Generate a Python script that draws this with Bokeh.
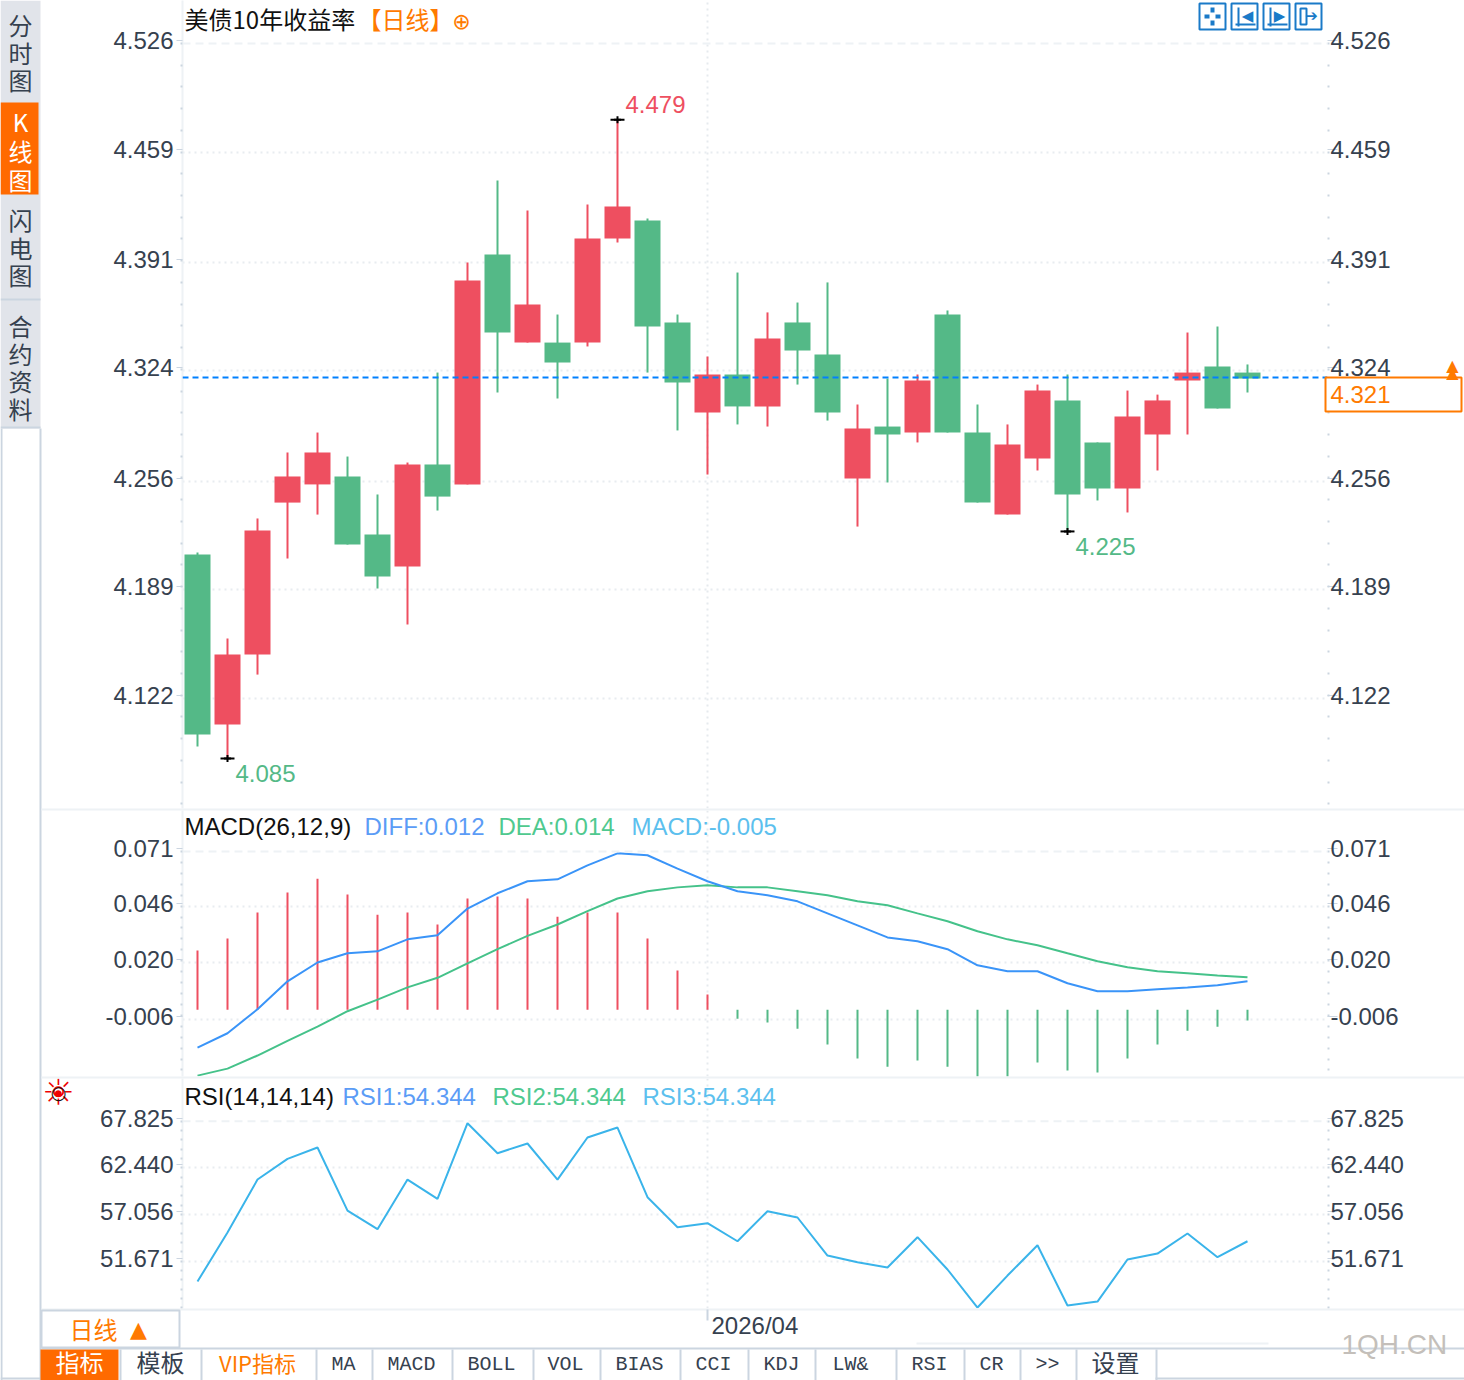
from bokeh.embed import file_html
from bokeh.layouts import column
from bokeh.models import BoxAnnotation, ColumnDataSource, FixedTicker, Label, LinearAxis, Span
from bokeh.plotting import figure
from bokeh.resources import INLINE

# daily bars, 10y treasury yield
opens = [4.2108, 4.1059, 4.1491, 4.2428, 4.2540, 4.2589, 4.2231, 4.2034, 4.2663, 4.2540, 4.3958, 4.3415,
         4.3415, 4.3415, 4.4057, 4.4168, 4.3539, 4.2984, 4.3218, 4.3021, 4.3539, 4.3341, 4.2577, 4.2897,
         4.2860, 4.3588, 4.2860, 4.2354, 4.2700, 4.3058, 4.2799, 4.2515, 4.2848, 4.3181, 4.3267, 4.3230]
closes = [4.0997, 4.1491, 4.2256, 4.2589, 4.2737, 4.2169, 4.1972, 4.2663, 4.2465, 4.3798, 4.3477, 4.3650,
          4.3292, 4.4057, 4.4254, 4.3514, 4.3169, 4.3218, 4.3021, 4.3440, 4.3366, 4.2984, 4.2885, 4.2848,
          4.3181, 4.2860, 4.2428, 4.2786, 4.3119, 4.2478, 4.2515, 4.2959, 4.3058, 4.3230, 4.3008, 4.3193]
highs = [4.2120, 4.1589, 4.2330, 4.2737, 4.2860, 4.2712, 4.2478, 4.2675, 4.3230, 4.3909, 4.4415, 4.4230,
         4.3588, 4.4267, 4.4790, 4.4180, 4.3588, 4.3329, 4.3847, 4.3601, 4.3662, 4.3786, 4.3033, 4.3193,
         4.3218, 4.3613, 4.3033, 4.2910, 4.3156, 4.3218, 4.2799, 4.3119, 4.3094, 4.3477, 4.3514, 4.3280]
lows = [4.0923, 4.0850, 4.1367, 4.2083, 4.2354, 4.2169, 4.1898, 4.1676, 4.2379, 4.2540, 4.3107, 4.3415,
        4.3070, 4.3391, 4.4032, 4.3230, 4.2873, 4.2601, 4.2910, 4.2897, 4.3156, 4.2934, 4.2280, 4.2552,
        4.2799, 4.2860, 4.2428, 4.2354, 4.2626, 4.2250, 4.2441, 4.2367, 4.2626, 4.2848, 4.3008, 4.3107]
last_price = 4.320

macd_hist = [0.0257, 0.0312, 0.0431, 0.0522, 0.0586, 0.0513, 0.0421, 0.0431, 0.0376, 0.0495, 0.0504, 0.0495,
             0.0412, 0.0431, 0.0431, 0.0312, 0.0165, 0.0055, -0.0055, -0.0073, -0.0101, -0.0174, -0.0238, -0.0275,
             -0.0247, -0.0275, -0.0321, -0.0321, -0.0256, -0.0293, -0.0302, -0.0238, -0.0174, -0.0110, -0.0092, -0.0064]
macd_base = -0.0014
diff = [-0.0188, -0.0122, -0.0012, 0.0116, 0.0202, 0.0244, 0.0253, 0.0308, 0.0327, 0.0449, 0.0519, 0.0574,
        0.0583, 0.0647, 0.0702, 0.0693, 0.0632, 0.0574, 0.0528, 0.0510, 0.0482, 0.0427, 0.0372, 0.0317,
        0.0299, 0.0263, 0.0189, 0.0162, 0.0162, 0.0107, 0.0070, 0.0070, 0.0079, 0.0088, 0.0098, 0.0116]
dea = [-0.0316, -0.0284, -0.0224, -0.0157, -0.0092, -0.0021, 0.0032, 0.0088, 0.0132, 0.0198, 0.0263, 0.0324,
       0.0376, 0.0437, 0.0495, 0.0528, 0.0546, 0.0556, 0.0546, 0.0546, 0.0528, 0.0510, 0.0482, 0.0464,
       0.0427, 0.0391, 0.0345, 0.0308, 0.0281, 0.0244, 0.0208, 0.0180, 0.0162, 0.0153, 0.0143, 0.0134]

rsi = [49.32, 54.98, 61.09, 63.48, 64.79, 57.51, 55.36, 61.09, 58.86, 67.59, 64.13, 65.25,
       61.09, 65.94, 67.09, 59.05, 55.59, 56.05, 53.97, 57.44, 56.71, 52.32, 51.55, 50.94,
       54.44, 50.71, 46.32, 50.01, 53.51, 46.55, 47.01, 51.86, 52.55, 54.86, 52.13, 53.97]

price_ticks = [4.526, 4.459, 4.391, 4.324, 4.256, 4.189, 4.122]
macd_ticks = [0.071, 0.046, 0.020, -0.006]
rsi_ticks = [67.825, 62.440, 57.056, 51.671]
month_tick = 17
month_label = "2026/04"

side_tabs = [("分时图", 24), ("K线图", 121), ("闪电图", 219), ("合约资料", 325)]
bottom_tabs = [("指标", 79), ("模板", 160), ("VIP指标", 257), ("MA", 343), ("MACD", 411), ("BOLL", 491), ("VOL", 565),
               ("BIAS", 639), ("CCI", 713), ("KDJ", 781), ("LW&", 850), ("RSI", 929), ("CR", 991), (">>", 1047), ("设置", 1115)]
tab_lines = [119, 200, 315, 371, 451, 532, 599, 679, 747, 814, 895, 963, 1019, 1075, 1155]

RED = "#ee4f60"
GREEN = "#54b987"
ORANGE = "#ff7a00"
LINE = "#cbd5e0"
PALE = "#eef2f5"
INK = "#36414f"
BLUE = "#1a7ac8"
SANS = "Liberation Sans"
CJK = "Noto Sans CJK SC"
MONO = "Liberation Mono"
SYMBOL = "DejaVu Sans"

idx = list(range(len(opens)))


def box(p, left, right, top, bottom, color, line=None, line_width=0):
    p.add_layout(BoxAnnotation(left=left, right=right, top=top, bottom=bottom,
                               left_units="canvas", right_units="canvas", top_units="canvas", bottom_units="canvas",
                               fill_color=color, fill_alpha=1 if color else 0,
                               line_color=line, line_width=line_width, line_alpha=1))


def put_text(p, x, y, text, color=INK, size=24, font=SANS, align="left"):
    p.add_layout(Label(x=x, y=y, x_units="canvas", y_units="canvas", text=text, text_color=color,
                       text_font=font, text_font_size=f"{size}px", text_align=align, text_baseline="middle"))


def make_pane(height, y_range, ticks, bottom_border):
    p = figure(width=1464, height=height, x_range=(-0.5, 37.667), y_range=y_range,
               min_border_left=182, min_border_right=137, min_border_top=0, min_border_bottom=bottom_border,
               output_backend="svg", toolbar_location=None, tools="", background_fill_color="white")
    p.outline_line_color = None

    step = (ticks[0] - ticks[1]) / 5
    minor = []
    v = ticks[0]
    while v > y_range[0]:
        minor.append(v)
        v -= step

    # the terminal prints its scale labels a little above the gridline they belong to
    nudge = (y_range[1] - y_range[0]) / (height - bottom_border) * 3
    shown = [t + nudge for t in ticks]
    labels = {s: f"{t:.3f}" for s, t in zip(shown, ticks)}

    p.yaxis.ticker = FixedTicker(ticks=shown, minor_ticks=minor)
    right = LinearAxis(ticker=FixedTicker(ticks=shown, minor_ticks=minor))
    p.add_layout(right, "right")
    p.yaxis.major_label_overrides = labels
    p.yaxis.major_label_text_font = SANS
    p.yaxis.major_label_text_font_size = "24px"
    p.yaxis.major_label_text_color = INK
    p.yaxis.major_tick_in = 0
    p.yaxis.major_tick_line_color = LINE
    p.yaxis.minor_tick_in = 0
    p.yaxis.minor_tick_out = 2
    p.yaxis.minor_tick_line_color = LINE
    p.yaxis.minor_tick_line_width = 2
    p.yaxis.axis_line_color = PALE
    p.yaxis.axis_line_width = 2
    p.yaxis.major_tick_out = 6
    p.yaxis.major_label_standoff = 3
    right.axis_line_color = None
    right.major_tick_out = 10
    right.major_label_standoff = -7

    p.xaxis.visible = False
    p.xgrid.ticker = FixedTicker(ticks=[month_tick])
    p.xgrid.grid_line_color = "#e6eaee"
    p.xgrid.grid_line_dash = [2, 4]
    p.xgrid.grid_line_width = 2
    p.ygrid.ticker = FixedTicker(ticks=ticks[1:])
    p.ygrid.grid_line_color = "#e8ecf0"
    p.ygrid.grid_line_dash = [2, 4]
    p.ygrid.grid_line_width = 2
    p.add_layout(Span(location=ticks[0], dimension="width", line_color=PALE, line_width=2, line_dash=[8, 5]))
    return p


# ---- price pane
p1 = make_pane(810, (4.0541, 4.5525), price_ticks, 2)
colors = [RED if c >= o else GREEN for o, c in zip(opens, closes)]
candles = ColumnDataSource(dict(idx=idx, opens=opens, closes=closes, highs=highs, lows=lows, color=colors))
p1.segment("idx", "highs", "idx", "lows", source=candles, line_color="color", line_width=2)
p1.vbar("idx", width=0.867, top="opens", bottom="closes", source=candles, fill_color="color", line_color=None)
p1.add_layout(Span(location=last_price, dimension="width", line_color="#0080ff", line_width=2, line_dash=[6, 4]))

extremes = ColumnDataSource(dict(x=[1, 14, 29], y=[4.085, 4.479, 4.225]))
p1.scatter("x", "y", source=extremes, marker="dash", size=14, line_color="black", line_width=2)
p1.scatter("x", "y", source=extremes, marker="cross", size=7, line_color="black", line_width=2)
for x, y, text, color, dy in [(1, 4.085, "4.085", GREEN, -15), (14, 4.479, "4.479", RED, 15), (29, 4.225, "4.225", GREEN, -15)]:
    p1.add_layout(Label(x=x, y=y, text=text, text_color=color, text_font=SANS, text_font_size="24px",
                        x_offset=8, y_offset=dy, text_baseline="middle"))

# ---- MACD pane
p2 = make_pane(268, (-0.0320, 0.0898), macd_ticks, 2)
hist_colors = [RED if v >= macd_base else GREEN for v in macd_hist]
hist = ColumnDataSource(dict(idx=idx, top=macd_hist, base=[macd_base] * len(idx), color=hist_colors))
p2.segment("idx", "base", "idx", "top", source=hist, line_color="color", line_width=2)
p2.line(idx, dea, line_color="#45c28a", line_width=2)
p2.line(idx, diff, line_color="#3a94f8", line_width=2)

# ---- RSI pane
p3 = make_pane(302, (46.21, 72.75), rsi_ticks, 72)
p3.line(idx, rsi, line_color="#3ab4ea", line_width=2)

# ---- see-through sheet over the panes for the terminal chrome, pulled up by its own height
p0 = figure(width=1464, height=1380, x_range=(0, 1464), y_range=(1380, 0), margin=(-1380, 0, 0, 0),
            min_border=0, x_axis_type=None, y_axis_type=None, output_backend="svg", toolbar_location=None, tools="",
            background_fill_color=None, border_fill_color=None, frame_align=False)
p0.outline_line_color = None
p0.grid.visible = False

# pane titles
put_text(p0, 184, 18, "美债10年收益率", "#111111", 24, CJK)
put_text(p0, 357, 18, "【日线】", ORANGE, 24, CJK)
put_text(p0, 461, 21, "⊕", ORANGE, 22, SYMBOL, "center")
put_text(p0, 184, 826, "MACD(26,12,9)", "#111111")
put_text(p0, 364, 826, "DIFF:0.012", "#5b9cf6")
put_text(p0, 498, 826, "DEA:0.014", "#4fc98f")
put_text(p0, 631, 826, "MACD:-0.005", "#5cc0ee")
put_text(p0, 184, 1096, "RSI(14,14,14)", "#111111")
put_text(p0, 342, 1096, "RSI1:54.344", "#5b9cf6")
put_text(p0, 492, 1096, "RSI2:54.344", "#4fc98f")
put_text(p0, 642, 1096, "RSI3:54.344", "#5cc0ee")
put_text(p0, 58, 1092, "☼", "#f00000", 36, SYMBOL, "center")
put_text(p0, 58, 1092, "○", "#111111", 18, SYMBOL, "center")
put_text(p0, 58, 1092, "●", "#f00000", 9, SYMBOL, "center")

# dividers and rail
box(p0, 0, 2, 428, 1380, LINE)
box(p0, 39, 41, 428, 1380, LINE)
box(p0, 41, 1464, 808, 810, PALE)
box(p0, 41, 1464, 1076, 1078, PALE)
box(p0, 41, 1464, 1308, 1310, PALE)

# last price tag
box(p0, 1325, 1461, 377, 411, "white", ORANGE, 2)
put_text(p0, 1330, 394, "4.321", ORANGE, 24)
put_text(p0, 1452, 365, "▲", ORANGE, 16, SYMBOL, "center")
put_text(p0, 1452, 372, "▲", ORANGE, 16, SYMBOL, "center")

# side tabs
box(p0, 0, 40, 0, 428, "#e1e4ea")
box(p0, 0, 38, 102, 194, "#ff6a00")
box(p0, 0, 40, 298, 300, LINE)
box(p0, 0, 40, 426, 428, LINE)
for text, start in side_tabs:
    for i, ch in enumerate(text):
        step = 29 if text == "K线图" else 27.5
        put_text(p0, 20, start + i * step, ch, "white" if text == "K线图" else INK, 24, CJK, "center")

# chart tool buttons
for left, glyph in [(1199, ""), (1231, "◀"), (1263, "▶"), (1295, "➔")]:
    box(p0, left, left + 26, 3, 29, "white", BLUE, 2)
    if glyph:
        put_text(p0, left + 16, 15, glyph, BLUE, 15, SYMBOL, "center")
for l, r, t, b in [(1204, 1209, 14, 18), (1215, 1220, 14, 18), (1210, 1214, 7, 12), (1210, 1214, 20, 25)]:
    box(p0, l, r, t, b, BLUE)
for left in [1231, 1263]:
    box(p0, left + 6, left + 8, 7, 26, BLUE)
    box(p0, left + 4, left + 24, 23, 25, BLUE)
box(p0, 1300, 1306, 8, 24, None, BLUE, 2)

# date strip and bottom bar
box(p0, 706, 708, 1309, 1320, LINE)
put_text(p0, 711, 1325, month_label)
box(p0, 41, 179, 1310, 1347, "white", LINE, 2)
put_text(p0, 93, 1328, "日线", ORANGE, 24, CJK, "center")
put_text(p0, 138, 1329, "▲", ORANGE, 22, SYMBOL, "center")
box(p0, 916, 1268, 1342, 1344, PALE)
box(p0, 41, 1464, 1347, 1349, LINE)
box(p0, 1155, 1464, 1377, 1379, LINE)
box(p0, 0, 40, 1377, 1379, LINE)
box(p0, 40, 118, 1349, 1380, "#ff6a00")
for x in tab_lines:
    box(p0, x, x + 2, 1349, 1380, LINE)
for text, x in bottom_tabs:
    color = "white" if text == "指标" else ORANGE if text == "VIP指标" else INK
    if text in ("指标", "模板", "设置"):
        put_text(p0, x, 1361, text, color, 24, CJK, "center")
    elif text == "VIP指标":
        put_text(p0, x, 1361, text, color, 22, CJK, "center")
    else:
        put_text(p0, x, 1364, text, color, 20, MONO, "center")
put_text(p0, 1341, 1344, "1QH.CN", "#c4bfba", 28)

page = column(p1, p2, p3, p0, spacing=0)
open("out.html", "w").write(file_html(page, INLINE))
